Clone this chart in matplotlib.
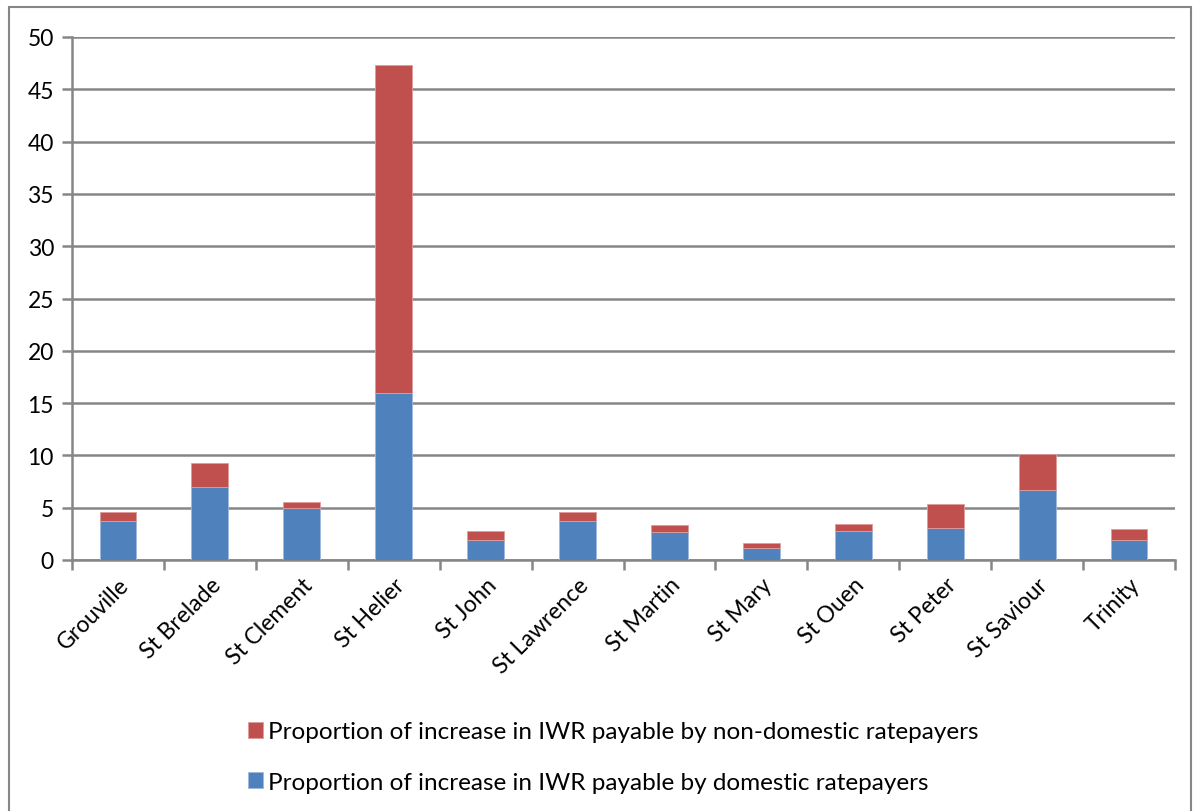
import numpy as np
import matplotlib.pyplot as plt
from matplotlib.patches import Rectangle

plt.rcParams['font.family'] = ['Lato', 'DejaVu Sans']

parishes = ["Grouville", "St Brelade", "St Clement", "St Helier", "St John",
            "St Lawrence", "St Martin", "St Mary", "St Ouen", "St Peter",
            "St Saviour", "Trinity"]
domestic = [3.75, 7.0, 4.95, 16.0, 1.95, 3.7, 2.65, 1.15, 2.75, 3.05, 6.65, 1.95]
non_domestic = [0.8, 2.25, 0.6, 31.3, 0.8, 0.9, 0.65, 0.45, 0.65, 2.3, 3.5, 1.0]

blue = "#4F81BD"
red = "#C0504D"
grid_c = "#868686"

fig = plt.figure(figsize=(12, 8.12), dpi=100)
# outer chart border
fig.patches.append(Rectangle((9 / 1200, -0.01), 1182 / 1200, 1 - 8 / 812 + 0.01,
                             transform=fig.transFigure, fill=False,
                             edgecolor=grid_c, linewidth=1.5))

ax = fig.add_axes([72 / 1200, 1 - 561 / 812, (1175 - 72) / 1200, (561 - 38) / 812])

x = np.arange(len(parishes))
ax.bar(x, domestic, width=0.4, color=blue, edgecolor="#9DB9DE", linewidth=0.6,
       label="Proportion of increase in IWR payable by domestic ratepayers", zorder=3)
ax.bar(x, non_domestic, bottom=domestic, width=0.4, color=red, edgecolor="#DE9C9A",
       linewidth=0.6,
       label="Proportion of increase in IWR payable by non-domestic ratepayers", zorder=3)

ax.set_xlim(-0.5, len(parishes) - 0.5)
ax.set_ylim(0, 50)
ax.set_yticks(np.arange(0, 51, 5))
ax.yaxis.grid(True, color=grid_c, linewidth=1.8)
ax.set_axisbelow(True)

ax.set_xticks(x)
ax.set_xticklabels(parishes, rotation=45, ha="right", rotation_mode="anchor", fontsize=16.5)
ax.set_xticks(np.arange(-0.5, len(parishes), 1), minor=True)
ax.tick_params(axis="x", which="major", length=0, pad=10)
ax.tick_params(axis="x", which="minor", length=7, width=1.8, color=grid_c)
ax.tick_params(axis="y", length=7, width=1.8, color=grid_c, labelsize=16.5, pad=6)

for side in ["top", "right"]:
    ax.spines[side].set_visible(False)
for side in ["left", "bottom"]:
    ax.spines[side].set_color(grid_c)
    ax.spines[side].set_linewidth(1.8)

handles, labels = ax.get_legend_handles_labels()
fig.legend(handles[::-1], labels[::-1], loc="center", bbox_to_anchor=(0.511, 1 - 758 / 812),
           ncol=1, frameon=False, fontsize=17.5, handlelength=0.65, handleheight=0.65,
           handletextpad=0.2, labelspacing=1.2)

fig.savefig("out.png", dpi=100)
